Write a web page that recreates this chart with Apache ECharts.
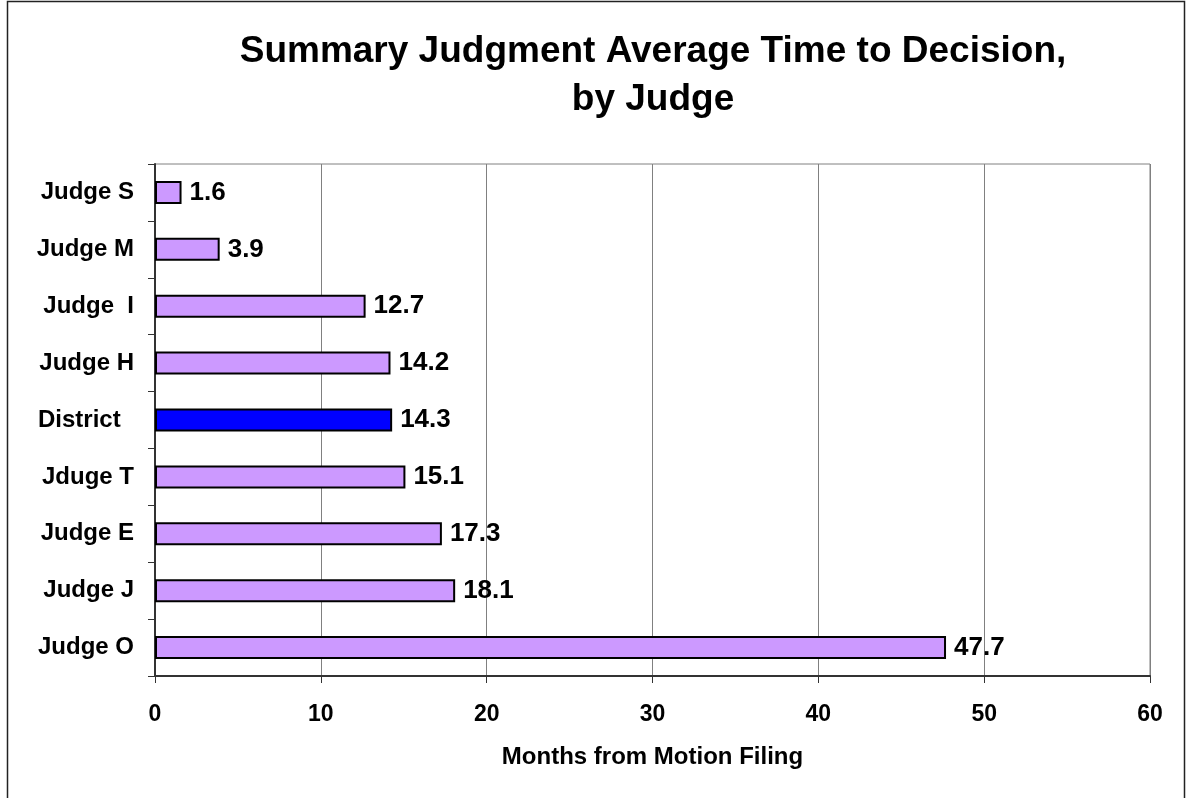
<!DOCTYPE html>
<html>
<head>
<meta charset="utf-8">
<script src="https://cdn.jsdelivr.net/npm/echarts@6/dist/echarts.min.js"></script>
<style>html,body{margin:0;padding:0;background:#fff;}#c{width:1187px;height:798px;}</style>
</head>
<body>
<div id="c"></div>
<script>
var categories = ['Judge S', 'Judge M', 'Judge  I', 'Judge H', 'District', 'Jduge T', 'Judge E', 'Judge J', 'Judge O'];
var values = [1.6, 3.9, 12.7, 14.2, 14.3, 15.1, 17.3, 18.1, 47.7];
var highlightCategory = 'District';
var xTicks = [0, 10, 20, 30, 40, 50, 60];
var titleText = 'Summary Judgment Average Time to Decision,\nby Judge';
var xAxisName = 'Months from Motion Filing';

var FONT = 'Liberation Sans, Arial, sans-serif';
var chart = echarts.init(document.getElementById('c'), null, {renderer: 'canvas'});
chart.setOption({
  backgroundColor: '#fff',
  animation: false,
  title: {
    text: titleText,
    left: 648,
    top: 23,
    textAlign: 'center',
    textStyle: {fontFamily: FONT, fontSize: 37, fontWeight: 'bold', color: '#000', lineHeight: 48}
  },
  graphic: [{
    type: 'rect',
    shape: {x: 7.5, y: 1.5, width: 1177, height: 900},
    style: {fill: 'none', stroke: '#222', lineWidth: 1.5},
    silent: true,
    z: 100
  }],
  grid: {left: 155, right: 37, top: 164, bottom: 122, show: true, borderColor: '#808080', borderWidth: 1, containLabel: false},
  xAxis: {
    type: 'value',
    min: xTicks[0],
    max: xTicks[xTicks.length - 1],
    interval: xTicks[1] - xTicks[0],
    name: xAxisName,
    nameLocation: 'middle',
    nameGap: 69,
    nameTextStyle: {fontFamily: FONT, fontSize: 24, fontWeight: 'bold', color: '#000'},
    axisLine: {show: true, lineStyle: {color: '#333', width: 2}},
    axisTick: {show: true, length: 7, lineStyle: {color: '#333', width: 1}},
    axisLabel: {margin: 27, fontFamily: FONT, fontSize: 23, fontWeight: 'bold', color: '#000'},
    splitLine: {show: true, lineStyle: {color: '#808080', width: 1}}
  },
  yAxis: {
    type: 'category',
    data: categories,
    inverse: true,
    axisLine: {show: true, lineStyle: {color: '#333', width: 2}},
    axisTick: {show: true, length: 7, lineStyle: {color: '#333', width: 1}},
    axisLabel: {
      margin: 21, fontFamily: FONT, fontSize: 24, fontWeight: 'bold', color: '#000',
      formatter: function (v) { return v === highlightCategory ? v + '  ' : v; }
    },
    splitLine: {show: false}
  },
  series: [{
    type: 'bar',
    barWidth: 23,
    data: values.map(function (v, i) {
      return {
        value: v,
        itemStyle: {color: categories[i] === highlightCategory ? '#0000FF' : '#CC99FF'}
      };
    }),
    itemStyle: {borderColor: '#000', borderWidth: 2},
    label: {
      show: true, position: 'right', distance: 8,
      fontFamily: FONT, fontSize: 26, fontWeight: 'bold', color: '#000',
      formatter: function (p) { return p.value.toFixed(1); }
    }
  }]
});
</script>
</body>
</html>
